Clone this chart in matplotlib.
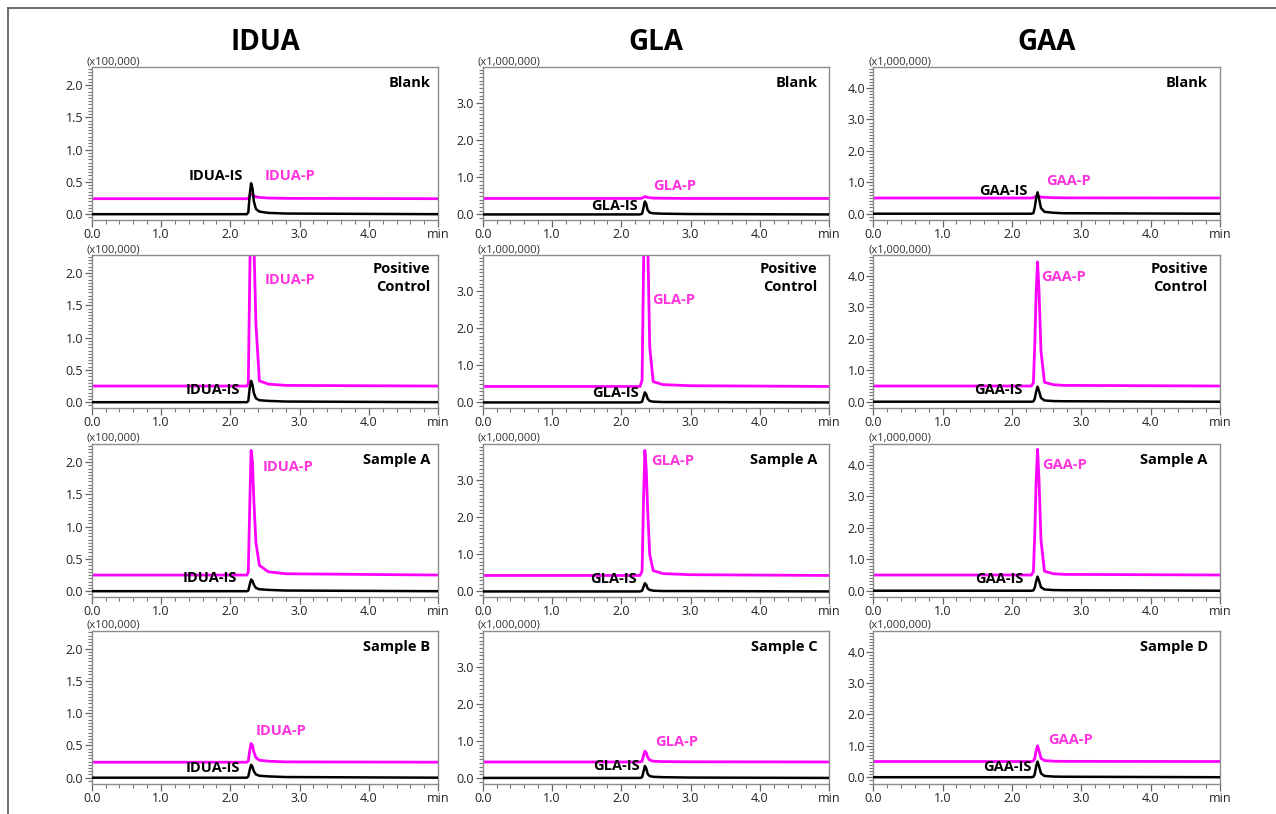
import matplotlib
matplotlib.use("Agg")
import matplotlib.pyplot as plt
from matplotlib.lines import Line2D
from matplotlib.ticker import MultipleLocator, FixedLocator, FormatStrFormatter

plt.rcParams["font.family"] = ["Open Sans", "DejaVu Sans"]

# ---------- data ----------
COMPOUNDS = ["IDUA", "GLA", "GAA"]
MULTIPLIERS = ["(x100,000)", "(x1,000,000)", "(x1,000,000)"]
SAMPLES = [
    ["Blank", "Positive\nControl", "Sample A", "Sample B"],
    ["Blank", "Positive\nControl", "Sample A", "Sample C"],
    ["Blank", "Positive\nControl", "Sample A", "Sample D"],
]

# retention time breakpoints (min), one grid per compound
IDUA_T = [0.0, 2.24, 2.26, 2.28, 2.30, 2.32, 2.34, 2.37, 2.42, 2.55, 2.80, 5.0]
GLA_T = [0.0, 2.27, 2.30, 2.32, 2.34, 2.36, 2.38, 2.41, 2.46, 2.60, 3.00, 5.0]
GAA_T = [0.0, 2.28, 2.31, 2.33, 2.35, 2.37, 2.39, 2.42, 2.47, 2.60, 2.75, 5.0]

# internal standard traces (rows: Blank, Positive, Sample A, Sample B/C/D)
IDUA_IS = [
    [0, 0, 0.03, 0.30, 0.48, 0.40, 0.20, 0.08, 0.04, 0.02, 0.01, 0],
    [0, 0, 0.02, 0.22, 0.33, 0.27, 0.14, 0.06, 0.03, 0.02, 0.01, 0],
    [0, 0, 0.01, 0.10, 0.18, 0.16, 0.10, 0.05, 0.03, 0.02, 0.01, 0],
    [0, 0, 0.02, 0.12, 0.20, 0.17, 0.10, 0.05, 0.03, 0.02, 0.01, 0],
]
GLA_IS = [
    [0, 0, 0.02, 0.18, 0.35, 0.28, 0.12, 0.05, 0.03, 0.02, 0.01, 0],
    [0, 0, 0.02, 0.15, 0.27, 0.22, 0.10, 0.04, 0.02, 0.01, 0.01, 0],
    [0, 0, 0.02, 0.12, 0.22, 0.18, 0.08, 0.04, 0.02, 0.01, 0.01, 0],
    [0, 0, 0.02, 0.17, 0.32, 0.26, 0.11, 0.05, 0.03, 0.02, 0.01, 0],
]
GAA_IS = [
    [0, 0, 0.02, 0.20, 0.50, 0.68, 0.50, 0.18, 0.06, 0.03, 0.015, 0],
    [0, 0, 0.01, 0.10, 0.32, 0.48, 0.35, 0.12, 0.04, 0.02, 0.015, 0],
    [0, 0, 0.01, 0.10, 0.30, 0.45, 0.33, 0.11, 0.04, 0.02, 0.015, 0],
    [0, 0, 0.01, 0.10, 0.35, 0.50, 0.36, 0.12, 0.04, 0.02, 0.015, 0],
]

# product traces
IDUA_P = [
    [0.24, 0.24, 0.25, 0.28, 0.31, 0.30, 0.28, 0.27, 0.26, 0.25, 0.245, 0.24],
    [0.25, 0.25, 0.30, 1.90, 3.40, 3.20, 2.50, 1.20, 0.33, 0.28, 0.26, 0.25],
    [0.25, 0.25, 0.30, 1.30, 2.18, 2.00, 1.40, 0.75, 0.40, 0.30, 0.27, 0.25],
    [0.24, 0.24, 0.26, 0.42, 0.53, 0.50, 0.40, 0.31, 0.27, 0.255, 0.245, 0.24],
]
GLA_P = [
    [0.43, 0.43, 0.44, 0.46, 0.48, 0.47, 0.46, 0.45, 0.44, 0.435, 0.43, 0.43],
    [0.43, 0.43, 0.60, 3.50, 6.50, 6.00, 4.50, 1.50, 0.56, 0.48, 0.45, 0.43],
    [0.43, 0.43, 0.55, 2.40, 3.80, 3.30, 2.20, 1.00, 0.56, 0.48, 0.45, 0.43],
    [0.43, 0.43, 0.45, 0.60, 0.72, 0.68, 0.56, 0.48, 0.45, 0.44, 0.435, 0.43],
]
GAA_P = [
    [0.50, 0.50, 0.51, 0.53, 0.55, 0.56, 0.55, 0.53, 0.52, 0.51, 0.505, 0.50],
    [0.50, 0.50, 0.60, 1.80, 3.50, 4.45, 3.60, 1.60, 0.62, 0.54, 0.52, 0.50],
    [0.50, 0.50, 0.60, 1.80, 3.50, 4.50, 3.60, 1.60, 0.62, 0.54, 0.52, 0.50],
    [0.50, 0.50, 0.52, 0.60, 0.85, 1.00, 0.85, 0.60, 0.53, 0.51, 0.505, 0.50],
]

TIMES = [IDUA_T, GLA_T, GAA_T]
IS_TRACES = [IDUA_IS, GLA_IS, GAA_IS]
P_TRACES = [IDUA_P, GLA_P, GAA_P]

# ---------- layout ----------
W, H = 1276, 814
COL_LEFT = [91.7, 482.7, 873.3]
ROW_TOP = [67, 255, 444, 630.5]
AX_W, AX_H = 346.5, 153
YLIMS = [(-0.09, 2.28), (-0.15, 3.97), (-0.2, 4.67)]
Y_MAJOR = [0.5, 1.0, 1.0]
Y_MINOR = [0.05, 0.1, 0.1]
LABEL_INSET = [8, 12, 12]

# peak label anchors (IS: right edge, P: left edge; y = centre)
IS_LABEL_POS = [
    [(2.18, 0.59), (2.14, 0.19), (2.09, 0.205), (2.14, 0.15)],
    [(2.24, 0.23), (2.245, 0.26), (2.23, 0.335), (2.26, 0.31)],
    [(2.22, 0.73), (2.16, 0.37), (2.17, 0.37), (2.29, 0.32)],
]
P_LABEL_POS = [
    [(2.50, 0.59), (2.49, 1.89), (2.46, 1.92), (2.37, 0.72)],
    [(2.46, 0.77), (2.44, 2.76), (2.43, 3.51), (2.49, 0.98)],
    [(2.49, 1.05), (2.42, 3.97), (2.43, 4.00), (2.52, 1.19)],
]

MAGENTA = "#ff00ff"
MAGENTA_TXT = "#ff33dd"
SPINE = "#8c8c8c"

fig = plt.figure(figsize=(W / 100, H / 100), dpi=100)
fig.patch.set_facecolor("white")

# frame lines along top and left edge
fig.add_artist(Line2D([8 / W, 1], [1 - 8 / H, 1 - 8 / H], color="#555555", lw=1.2))
fig.add_artist(Line2D([8 / W, 8 / W], [0, 1 - 8 / H], color="#555555", lw=1.2))

for c, comp in enumerate(COMPOUNDS):
    left = COL_LEFT[c]
    fig.text((left + AX_W / 2) / W, 1 - 43 / H, comp, ha="center", va="center",
             fontsize=20, fontweight="bold", color="black")
    for r in range(4):
        top = ROW_TOP[r]
        ax = fig.add_axes([left / W, 1 - (top + AX_H) / H, AX_W / W, AX_H / H])
        t = TIMES[c]
        ax.plot(t, P_TRACES[c][r], color=MAGENTA, lw=2.0, solid_joinstyle="round", zorder=2)
        ax.plot(t, IS_TRACES[c][r], color="black", lw=1.8, solid_joinstyle="round", zorder=3)

        ax.set_xlim(0, 5)
        ax.set_ylim(*YLIMS[c])
        ax.xaxis.set_major_locator(FixedLocator([0, 1, 2, 3, 4, 5]))
        ax.set_xticklabels(["0.0", "1.0", "2.0", "3.0", "4.0", "min"])
        ax.xaxis.set_minor_locator(MultipleLocator(0.2))
        ax.yaxis.set_major_locator(MultipleLocator(Y_MAJOR[c]))
        ax.yaxis.set_minor_locator(MultipleLocator(Y_MINOR[c]))
        ax.yaxis.set_major_formatter(FormatStrFormatter("%.1f"))
        ax.tick_params(which="major", direction="out", length=5, width=0.9,
                       color="#666666", labelsize=9, labelcolor="#222222", pad=1)
        ax.tick_params(which="minor", direction="out", length=3, width=0.8,
                       color="#777777")
        for sp in ax.spines.values():
            sp.set_color(SPINE)
            sp.set_linewidth(1.0)

        ax.annotate(MULTIPLIERS[c], xy=(0, 1), xycoords="axes fraction",
                    xytext=(-5, 0), textcoords="offset pixels",
                    ha="left", va="bottom", fontsize=8, color="#333333")

        name = SAMPLES[c][r]
        if "\n" in name:
            ax.annotate(name, xy=(1, 1), xycoords="axes fraction",
                        xytext=(-LABEL_INSET[c], -7), textcoords="offset pixels",
                        ha="right", va="top", fontsize=10.5, fontweight="bold",
                        linespacing=1.35, multialignment="right")
        else:
            ax.annotate(name, xy=(1, 1), xycoords="axes fraction",
                        xytext=(-LABEL_INSET[c], -16), textcoords="offset pixels",
                        ha="right", va="center", fontsize=10.5, fontweight="bold")

        xi, yi = IS_LABEL_POS[c][r]
        ax.text(xi, yi, comp + "-IS", ha="right", va="center", fontsize=10.5,
                fontweight="bold", color="black", zorder=4)
        xp, yp = P_LABEL_POS[c][r]
        ax.text(xp, yp, comp + "-P", ha="left", va="center", fontsize=10.5,
                fontweight="bold", color=MAGENTA_TXT, zorder=4)

fig.savefig("out.png", dpi=100)
